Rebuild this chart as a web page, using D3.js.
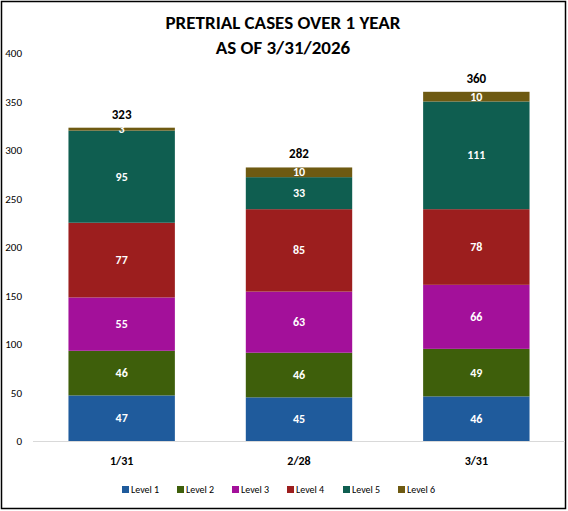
<!DOCTYPE html>
<html><head><meta charset="utf-8">
<script src="https://cdn.jsdelivr.net/npm/d3@7"></script>
<style>body{margin:0;background:#fff;font-family:Calibri,Carlito,"Liberation Sans",Arial,sans-serif}</style>
</head><body><svg id="c" width="568" height="511"></svg>
<script>
const categories = ["1/31","2/28","3/31"];
const seriesNames = ["Level 1","Level 2","Level 3","Level 4","Level 5","Level 6"];
const level1 = [47,45,46];
const level2 = [46,46,49];
const level3 = [55,63,66];
const level4 = [77,85,78];
const level5 = [95,33,111];
const level6 = [3,10,10];
const totals = [323,282,360];
const yTicks = [0,50,100,150,200,250,300,350,400];
const colors = ["#1f5b9c","#3e5f0b","#a3109a","#9c1e1e","#0f5e50","#6e5a12"];
const series = [level1,level2,level3,level4,level5,level6];

const svg = d3.select("#c");
svg.append("rect").attr("x",1.5).attr("y",1.5).attr("width",564).attr("height",507).attr("fill","#fff").attr("stroke","#000").attr("stroke-width",1.5);
svg.append("text").attr("x",283).attr("y",29).attr("text-anchor","middle").attr("font-size",19).attr("font-weight","bold").text("PRETRIAL CASES OVER 1 YEAR");
svg.append("text").attr("x",283).attr("y",54).attr("text-anchor","middle").attr("font-size",19).attr("font-weight","bold").text("AS OF 3/31/2026");

const x = d3.scaleBand().domain(categories).range([33,565]).paddingInner(0.4).paddingOuter(0.2);
const y = d3.scaleLinear().domain([0,400]).range([441,53]);

const rows = categories.map((c,i)=>{const o={cat:c}; seriesNames.forEach((s,j)=>o[s]=series[j][i]); return o;});
const stack = d3.stack().keys(seriesNames)(rows);

stack.forEach((layer,j)=>{
  const g = svg.append("g");
  g.selectAll("rect").data(layer).join("rect")
    .attr("x",d=>x(d.data.cat)).attr("width",x.bandwidth())
    .attr("y",d=>y(d[1])).attr("height",d=>y(d[0])-y(d[1]))
    .attr("fill",colors[j]);
  g.selectAll("text").data(layer).join("text")
    .attr("x",d=>x(d.data.cat)+x.bandwidth()/2)
    .attr("y",d=>(y(d[0])+y(d[1]))/2+4)
    .attr("text-anchor","middle").attr("fill","#fff").attr("font-size",12).attr("font-weight","bold")
    .text(d=>d[1]-d[0]);
});
svg.selectAll(".tot").data(categories).join("text")
  .attr("x",d=>x(d)+x.bandwidth()/2).attr("y",(d,i)=>y(totals[i])-9)
  .attr("text-anchor","middle").attr("font-size",13).attr("font-weight","bold").text((d,i)=>totals[i]);

svg.append("line").attr("x1",33).attr("x2",565).attr("y1",441.5).attr("y2",441.5).attr("stroke","#d9d9d9");
svg.selectAll(".yt").data(yTicks).join("text").attr("x",22).attr("y",d=>y(d)+4)
  .attr("text-anchor","end").attr("font-size",11).text(d=>d);
svg.selectAll(".xt").data(categories).join("text").attr("x",d=>x(d)+x.bandwidth()/2).attr("y",465)
  .attr("text-anchor","middle").attr("font-size",12).attr("font-weight","bold").text(d=>d);

const leg = svg.append("g");
const lx = [122,177,232,287,343,398];
seriesNames.forEach((s,j)=>{
  leg.append("rect").attr("x",lx[j]).attr("y",486).attr("width",7).attr("height",7).attr("fill",colors[j]);
  leg.append("text").attr("x",lx[j]+9).attr("y",493).attr("font-size",10).text(s);
});
</script></body></html>
